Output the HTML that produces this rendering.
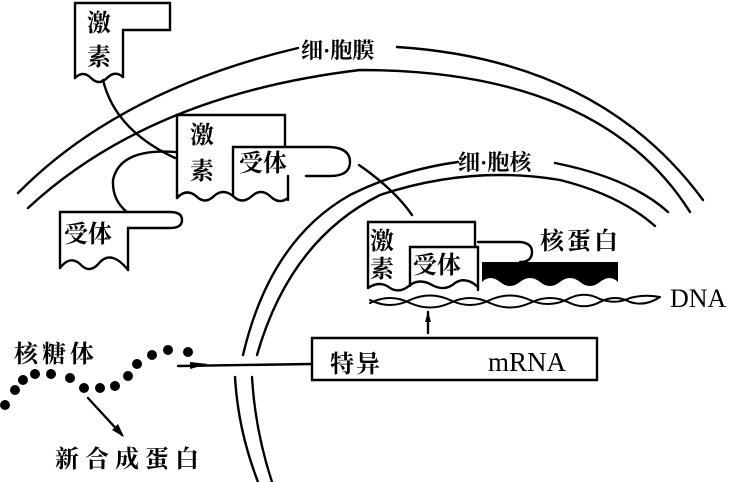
<!DOCTYPE html>
<html><head><meta charset="utf-8"><style>
html,body{margin:0;padding:0;background:#fff;}
svg{display:block}
text{font-family:"Liberation Serif","Noto Serif CJK SC",serif;font-weight:bold;fill:#000}
.lat{font-family:"Liberation Serif",serif;font-weight:normal}
</style></head><body>
<svg width="731" height="482" viewBox="0 0 731 482" xmlns="http://www.w3.org/2000/svg">
<g fill="none" stroke="#000" stroke-width="2.4" stroke-linecap="round">
<path d="M18,193 Q120,90 298,48"/>
<path d="M397,47 Q600,60 703,200"/>
<path d="M28,208 Q150,95 360,70 Q600,70 690,212"/>
<path d="M243,355 Q270,240 350,195 Q400,170 458,162"/>
<path d="M555,163 Q630,178 668,212"/>
<path d="M257,355 Q290,240 380,195 Q470,165 560,180 Q620,195 655,226"/>
<path d="M235,377 Q238,430 258,482"/>
<path d="M252,377 Q255,430 272,482"/>
<path d="M75,78 L75,3 L170,3 L170,30 L123,30 L123,77"/>
<path d="M75,78 Q83,70 91,78 Q99,86 107,78 Q115,70 123,77"/>
<path d="M103,80 Q115,130 175,158"/>
<path d="M177,198 L177,115 L285,115 L285,147"/>
<path d="M233,196 L233,147 L330,147 Q350,148 350,162 Q350,176 330,176 L306,176"/>
<path d="M288,176 L288,200"/>
<path d="M177,198 Q186,188 196,196 Q205,205 214,196 Q223,188 233,196 Q242,205 252,196 Q261,188 270,196 Q279,205 288,198"/>
<path d="M175,152 Q120,148 113,180 Q112,200 127,212"/>
<path d="M60,268 L60,212 L170,212 Q182,212 182,220 Q182,228 170,228 L128,228 L128,270"/>
<path d="M60,268 Q70,255 80,264 Q90,275 100,262 Q112,250 128,270"/>
<path d="M359,165 Q395,190 412,215"/>
<path d="M368,288 L368,222 L475,222 L475,247"/>
<path d="M410,286 L410,247 L478,247 L478,290"/>
<path d="M478,242 L520,242 Q532,243 532,252 Q532,262 520,262"/>
<path d="M368,288 Q380,280 390,288 Q400,294 410,285 Q420,278 432,285 Q445,292 455,283 Q466,276 478,287"/>
<path d="M370,303 Q390,293 410,303 Q430,312 450,303 Q470,293 490,303 Q510,312 530,303 Q550,293 570,303 Q585,310 600,302 Q615,294 630,302 Q645,307 660,297" stroke-width="2"/>
<path d="M370,300 Q390,310 410,300 Q430,291 450,300 Q470,310 490,300 Q510,291 530,300 Q550,309 570,298 Q585,291 600,299 Q615,305 630,298 Q645,294 660,297" stroke-width="2"/>
<path d="M428,333 L428,312"/>
<path d="M312,338 L597,338 L597,380 L312,380 Z"/>
<path d="M312,364 L178,366"/>
<path d="M88,398 L122,435"/>
</g>
<path d="M482,262 L618,262 L618,282 Q610,274 600,282 Q590,290 580,282 Q570,274 560,282 Q550,290 540,282 Q530,274 520,282 Q510,290 500,282 Q490,274 482,282 Z" fill="#000"/>
<path d="M190,362 L208,364 L190,369 Z" fill="#000"/>
<path d="M124,437 L112,430 L118,424 Z" fill="#000"/>
<path d="M428,312 L425,322 L431,322 Z" fill="#000"/>
<g fill="#000">
<circle cx="5" cy="405" r="5"/><circle cx="15" cy="390" r="5"/><circle cx="23" cy="380" r="5"/>
<circle cx="35" cy="374" r="5"/><circle cx="51" cy="374" r="5"/><circle cx="70" cy="378" r="5"/>
<circle cx="84" cy="388" r="5"/><circle cx="100" cy="388" r="5"/><circle cx="115" cy="386" r="5"/>
<circle cx="128" cy="376" r="5"/><circle cx="137" cy="364" r="5"/><circle cx="152" cy="355" r="5"/>
<circle cx="168" cy="350" r="5"/><circle cx="188" cy="352" r="5"/>
</g>
<g font-size="24">
<text x="87" y="31">激</text><text x="87" y="65">素</text>
<text x="301" y="58" font-size="22">细·胞膜</text>
<text x="190" y="143">激</text><text x="190" y="179">素</text>
<text x="239" y="171">受体</text>
<text x="64" y="242">受体</text>
<text x="458" y="170" font-size="22">细·胞核</text>
<text x="370" y="249">激</text><text x="370" y="277">素</text>
<text x="413" y="273">受体</text>
<text x="540" y="249" letter-spacing="3">核蛋白</text>
<text x="670" y="307" class="lat" font-size="26">DNA</text>
<text x="330" y="372" letter-spacing="2">特异</text>
<text x="488" y="371" class="lat" font-size="27">mRNA</text>
<text x="14" y="362" letter-spacing="4">核糖体</text>
<text x="55" y="467" letter-spacing="6">新合成蛋白</text>
</g>
</svg>
</body></html>
